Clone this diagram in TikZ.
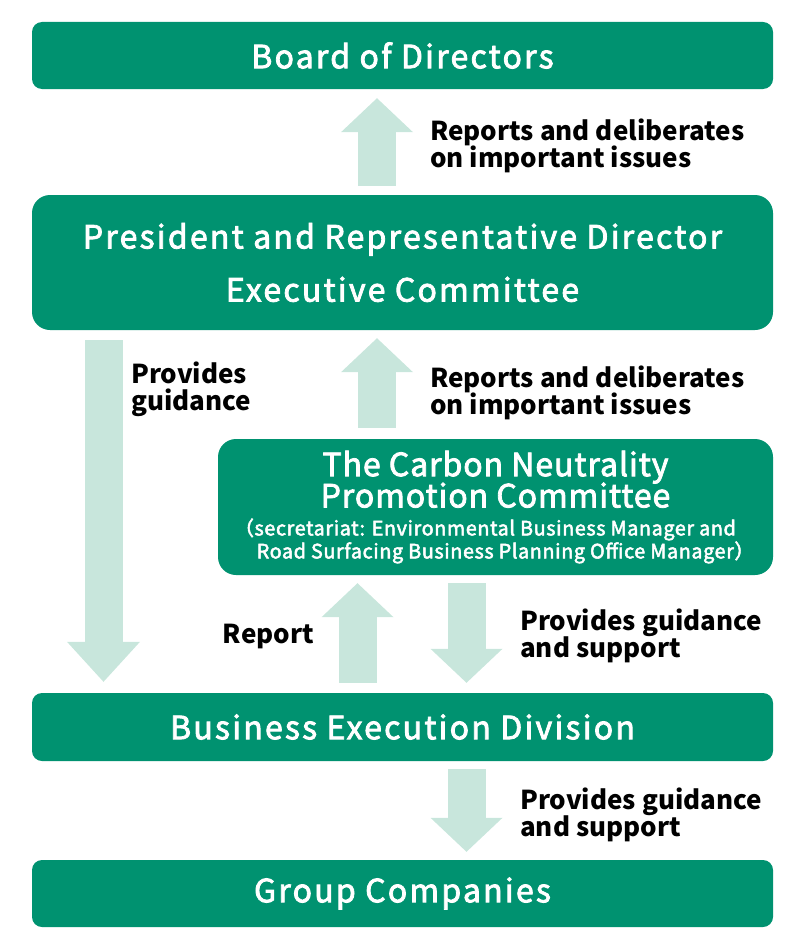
\documentclass[tikz,border=0pt]{standalone}
\usepackage{fontspec}
\setmainfont{Noto Sans CJK JP}
\newfontfamily\boxfont{Noto Sans CJK JP}[LetterSpace=7, FakeBold=2.5]
\newfontfamily\subboxfont{Noto Sans CJK JP}[LetterSpace=3, FakeBold=2.5]
\usepackage{tikz}
\usetikzlibrary{arrows.meta}
\definecolor{orggreen}{RGB}{0,146,112}
\definecolor{paleflow}{RGB}{200,230,220}
\newcommand{\subsize}{\fontsize{19.8}{22}\selectfont}
\tikzset{
  orgbox/.style={fill=orggreen, text=white, rounded corners=10pt, minimum width=741pt, minimum height=67pt, inner sep=0pt, align=center, font=\boxfont\fontsize{32}{32}\selectfont},
  flow/.style={draw=paleflow, line width=38pt, -{Triangle[width=72pt,length=34pt,line width=0pt]}},
  note/.style={anchor=west, align=left, inner sep=0pt, font=\bfseries\fontsize{26}{27}\selectfont}
}
\begin{document}
\begin{tikzpicture}[x=1pt, y=-1pt]
  \useasboundingbox (0,0) rectangle (800,950);
  \node[orgbox] (board) at (402.5,55.5) {Board of Directors};
  \node[orgbox, minimum height=135pt, rounded corners=18pt] (pres) at (402.5,262.5) {President and Representative Director\\[20pt]Executive Committee};
  \node[orgbox, minimum width=555pt, minimum height=136pt, rounded corners=18pt, font=\subboxfont\fontsize{32}{31}\selectfont] (cnpc) at (495.5,507) {The Carbon Neutrality\\[-2pt]Promotion Committee\\[-3pt]\subsize （secretariat: Environmental Business Manager and\hspace*{21pt}\mbox{}\\[-8pt]\subsize \hspace*{20pt}Road Surfacing Business Planning Office Manager）};
  \node[orgbox, minimum height=68pt] (biz) at (402.5,727) {Business Execution Division};
  \node[orgbox] (group) at (402.5,893.5) {Group Companies};
  \coordinate (midcol) at (377,0);
  \coordinate (leftcol) at (103.5,0);
  \coordinate (repcol) at (357.5,0);
  \coordinate (downcol) at (466.5,0);
  \draw[flow, shorten <=9pt, shorten >=9pt] (pres.north -| midcol) -- (board.south -| midcol);
  \draw[flow, shorten <=11pt, shorten >=8pt] (cnpc.north -| midcol) -- (pres.south -| midcol);
  \draw[flow, shorten <=10pt, shorten >=11pt, -{Triangle[width=73pt,length=40pt,line width=0pt]}] (pres.south -| leftcol) -- (biz.north -| leftcol);
  \draw[flow, shorten <=10pt, shorten >=8pt] (biz.north -| repcol) -- (cnpc.south -| repcol);
  \draw[flow, shorten <=8pt, shorten >=10pt] (cnpc.south -| downcol) -- (biz.north -| downcol);
  \draw[flow, shorten <=8pt, shorten >=8pt] (biz.south -| downcol) -- (group.north -| downcol);
  \node[note] (upnoteA) at (430,145.5) {Reports and deliberates\\on important issues};
  \node[note] (upnoteB) at (430,392.5) {Reports and deliberates\\on important issues};
  \node[note] (guidenote) at (131,389.5) {Provides\\guidance};
  \node[note, anchor=east] (reportnote) at (314,636) {Report};
  \node[note] (supportnoteA) at (520,635.5) {Provides guidance\\and support};
  \node[note] (supportnoteB) at (520,814.5) {Provides guidance\\and support};
\end{tikzpicture}
\end{document}
